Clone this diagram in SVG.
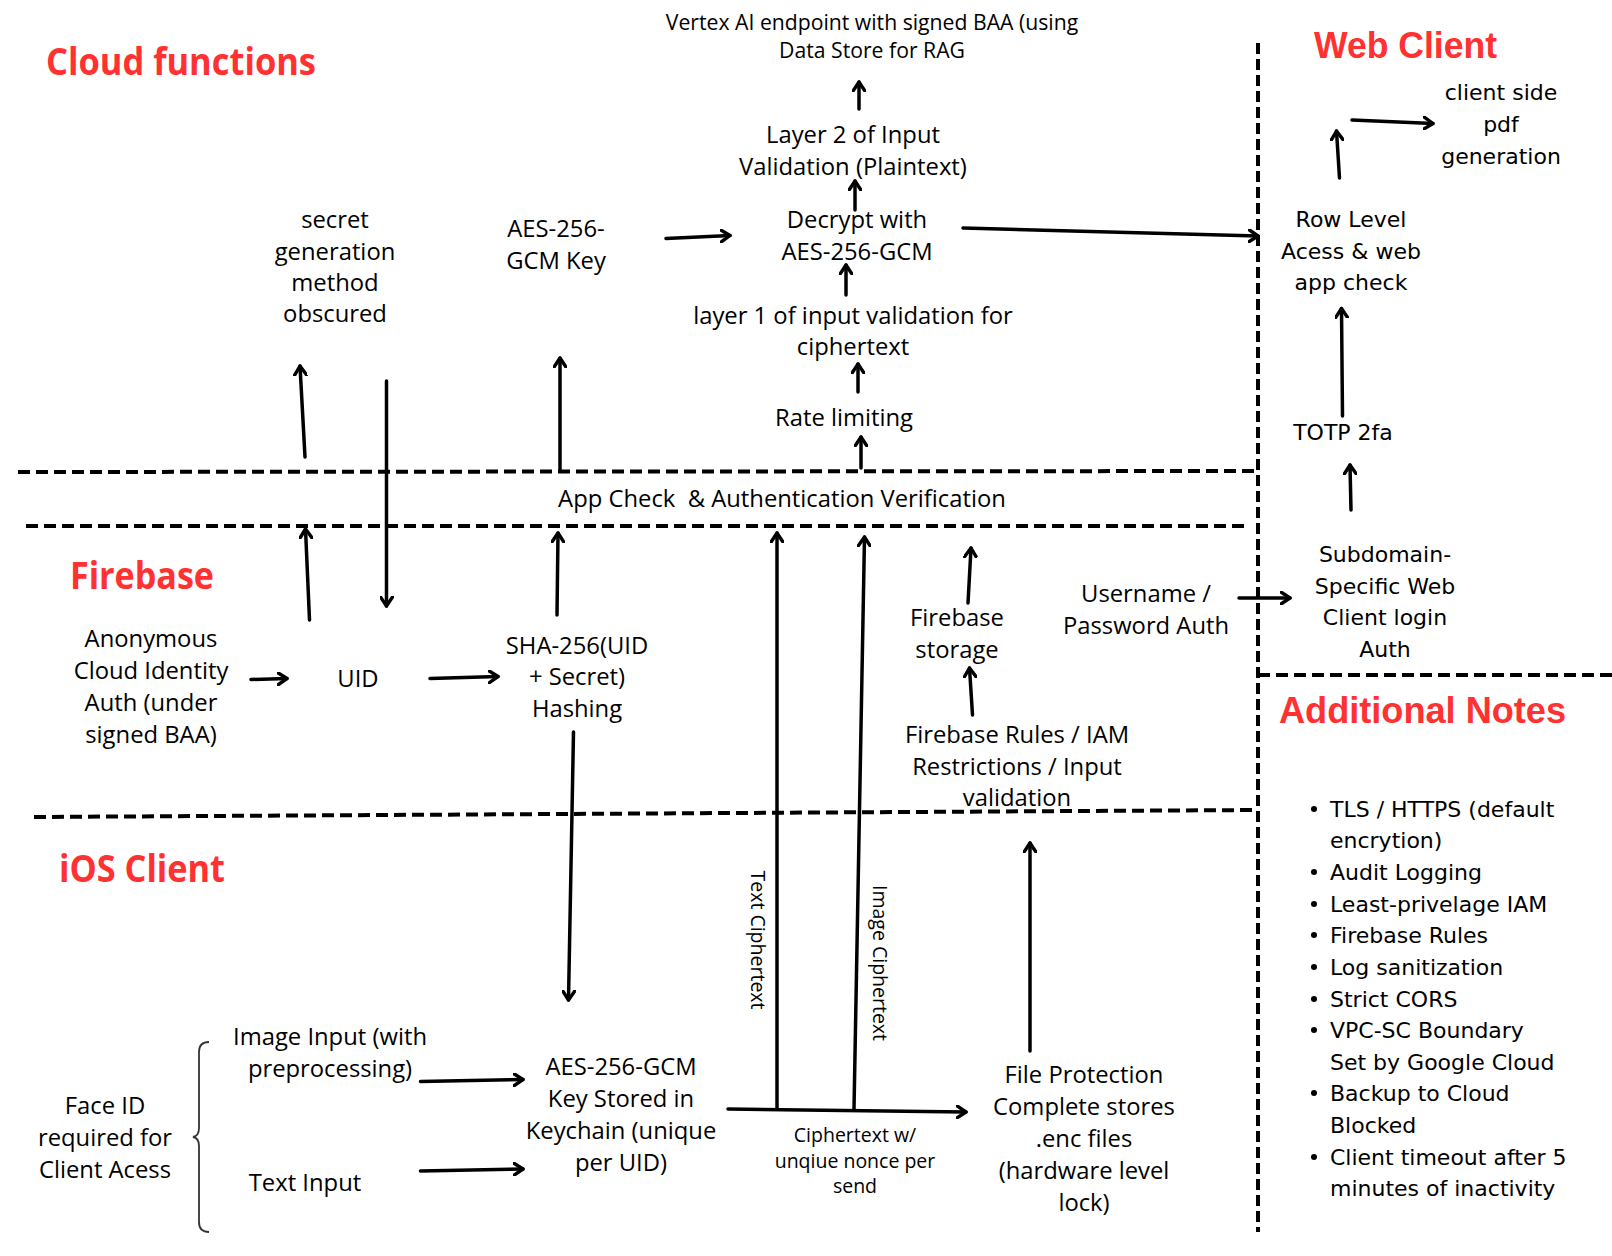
<svg xmlns="http://www.w3.org/2000/svg" width="1612" height="1256" viewBox="0 0 1612 1256">
<style>
.t{font-family:"Open Sans","Noto Sans",sans-serif;font-size:23.8px;fill:#000;text-anchor:middle}
.s{font-family:"Open Sans","Noto Sans",sans-serif;font-size:19.5px;fill:#000;text-anchor:middle}
.w{font-family:"DejaVu Sans",sans-serif;font-size:22px;fill:#000;text-anchor:middle}
.n{font-family:"DejaVu Sans",sans-serif;font-size:22px;fill:#000}
.h{font-family:"Open Sans","Noto Sans",sans-serif;font-weight:700;font-size:38px;fill:#ff3131}
.hw{font-family:"Liberation Sans",Arial,sans-serif;font-weight:700;font-size:36px;fill:#ff3131}
.c{stroke:#000;stroke-width:3.5;fill:none;stroke-linecap:round}
.d{stroke:#000;stroke-width:4;fill:none;stroke-dasharray:12 6}
</style>
<defs>
<marker id="arr" viewBox="0 0 12 14" refX="10" refY="7" markerWidth="12" markerHeight="14" markerUnits="userSpaceOnUse" orient="auto">
<path d="M1,1 L10,7 L1,13" fill="none" stroke="#000" stroke-width="3.4" stroke-linecap="round" stroke-linejoin="round"/>
</marker>
</defs>
<rect width="1612" height="1256" fill="#fff"/>

<g id="boundaries">
<line class="d" x1="18" y1="472" x2="1256" y2="471"/>
<line class="d" x1="26" y1="526" x2="1246" y2="526"/>
<line class="d" x1="34" y1="817" x2="1256" y2="810"/>
<line class="d" x1="1258" y1="43" x2="1258" y2="1232" style="stroke-dasharray:11 5"/>
<line class="d" x1="1258" y1="675" x2="1612" y2="675"/>
</g>

<g id="titles">
<text class="h" x="46" y="75" textLength="270" lengthAdjust="spacingAndGlyphs">Cloud functions</text>
<text class="h" x="70" y="589" textLength="144" lengthAdjust="spacingAndGlyphs">Firebase</text>
<text class="h" x="59" y="882" textLength="166" lengthAdjust="spacingAndGlyphs">iOS Client</text>
<text class="hw" x="1314" y="58" textLength="183" lengthAdjust="spacingAndGlyphs">Web Client</text>
<text class="hw" x="1279" y="723" textLength="287" lengthAdjust="spacingAndGlyphs">Additional Notes</text>
</g>

<g id="connectors">
<line class="c" x1="859" y1="109" x2="859" y2="82" marker-end="url(#arr)"/>
<line class="c" x1="855" y1="210" x2="855" y2="181" marker-end="url(#arr)"/>
<line class="c" x1="846" y1="295" x2="846" y2="265" marker-end="url(#arr)"/>
<line class="c" x1="858" y1="392" x2="858" y2="364" marker-end="url(#arr)"/>
<line class="c" x1="861" y1="468" x2="861" y2="437" marker-end="url(#arr)"/>
<line class="c" x1="666" y1="238.5" x2="730" y2="235.5" marker-end="url(#arr)"/>
<line class="c" x1="963" y1="228" x2="1258" y2="236" marker-end="url(#arr)"/>
<line class="c" x1="305" y1="457" x2="300" y2="366" marker-end="url(#arr)"/>
<line class="c" x1="386.5" y1="381" x2="386.5" y2="606" marker-end="url(#arr)"/>
<line class="c" x1="560" y1="471" x2="560" y2="358" marker-end="url(#arr)"/>
<line class="c" x1="251" y1="679.5" x2="287" y2="678.5" marker-end="url(#arr)"/>
<line class="c" x1="430" y1="678.5" x2="498" y2="676.5" marker-end="url(#arr)"/>
<line class="c" x1="309.5" y1="620" x2="305.5" y2="529" marker-end="url(#arr)"/>
<line class="c" x1="557" y1="615" x2="558" y2="533" marker-end="url(#arr)"/>
<line class="c" x1="573.5" y1="732" x2="568.5" y2="1000" marker-end="url(#arr)"/>
<line class="c" x1="777" y1="1109" x2="777" y2="533" marker-end="url(#arr)"/>
<line class="c" x1="854" y1="1109" x2="864.5" y2="537" marker-end="url(#arr)"/>
<line class="c" x1="968" y1="603" x2="971" y2="548" marker-end="url(#arr)"/>
<line class="c" x1="972.5" y1="715" x2="969.5" y2="668" marker-end="url(#arr)"/>
<line class="c" x1="1239" y1="598" x2="1290" y2="598" marker-end="url(#arr)"/>
<line class="c" x1="1339.5" y1="178" x2="1336.5" y2="131" marker-end="url(#arr)"/>
<line class="c" x1="1352" y1="120" x2="1433" y2="123.5" marker-end="url(#arr)"/>
<line class="c" x1="1342.5" y1="416" x2="1341.5" y2="308.5" marker-end="url(#arr)"/>
<line class="c" x1="1351" y1="510" x2="1350" y2="465" marker-end="url(#arr)"/>
<line class="c" x1="420.5" y1="1081.5" x2="523" y2="1079.5" marker-end="url(#arr)"/>
<line class="c" x1="420.5" y1="1171" x2="523" y2="1169" marker-end="url(#arr)"/>
<line class="c" x1="728" y1="1109" x2="966" y2="1112" marker-end="url(#arr)"/>
<line class="c" x1="1030" y1="1051" x2="1030" y2="843" marker-end="url(#arr)"/>
<path d="M209,1042 Q199,1042 199,1052 L199,1128 Q199,1136 193,1137 Q199,1138 199,1146 L199,1222 Q199,1232 209,1232" fill="none" stroke="#333" stroke-width="1.8"/>
</g>

<g id="vertex"><text class="s" x="872" y="30" style="font-size:21.2px">Vertex AI endpoint with signed BAA (using</text><text class="s" x="872" y="58" style="font-size:21.2px">Data Store for RAG</text></g>
<g id="layer2"><text class="t" x="853" y="143">Layer 2 of Input</text><text class="t" x="853" y="175">Validation (Plaintext)</text></g>
<g id="decrypt"><text class="t" x="857" y="228">Decrypt with</text><text class="t" x="857" y="260">AES-256-GCM</text></g>
<g id="layer1"><text class="t" x="853" y="324">layer 1 of input validation for</text><text class="t" x="853" y="355">ciphertext</text></g>
<g id="ratelimit"><text class="t" x="844" y="426">Rate limiting</text></g>
<g id="secret"><text class="t" x="335" y="228">secret</text><text class="t" x="335" y="260">generation</text><text class="t" x="335" y="291">method</text><text class="t" x="335" y="322">obscured</text></g>
<g id="aeskey"><text class="t" x="556" y="237">AES-256-</text><text class="t" x="556" y="269">GCM Key</text></g>
<g id="appcheck"><text class="t" x="782" y="507" xml:space="preserve">App Check  &amp; Authentication Verification</text></g>
<g id="anon"><text class="t" x="151" y="647">Anonymous</text><text class="t" x="151" y="679">Cloud Identity</text><text class="t" x="151" y="711">Auth (under</text><text class="t" x="151" y="743">signed BAA)</text></g>
<g id="uid"><text class="t" x="358" y="687">UID</text></g>
<g id="sha"><text class="t" x="577" y="654">SHA-256(UID</text><text class="t" x="577" y="685">+ Secret)</text><text class="t" x="577" y="717">Hashing</text></g>
<g id="fbstorage"><text class="t" x="957" y="626">Firebase</text><text class="t" x="957" y="658">storage</text></g>
<g id="fbrules"><text class="t" x="1017" y="743">Firebase Rules / IAM</text><text class="t" x="1017" y="775">Restrictions / Input</text><text class="t" x="1017" y="806">validation</text></g>
<g id="userpass"><text class="t" x="1146" y="602">Username /</text><text class="t" x="1146" y="634">Password Auth</text></g>
<g id="pdf"><text class="w" x="1501" y="100">client side</text><text class="w" x="1501" y="132">pdf</text><text class="w" x="1501" y="164">generation</text></g>
<g id="rowlevel"><text class="w" x="1351" y="227">Row Level</text><text class="w" x="1351" y="259">Acess &amp; web</text><text class="w" x="1351" y="290">app check</text></g>
<g id="totp"><text class="w" x="1343" y="440">TOTP 2fa</text></g>
<g id="subdomain"><text class="w" x="1385" y="562">Subdomain-</text><text class="w" x="1385" y="594">Specific Web</text><text class="w" x="1385" y="625">Client login</text><text class="w" x="1385" y="657">Auth</text></g>
<g id="notes">
<circle cx="1314" cy="809" r="3"/><text class="n" x="1330" y="817">TLS / HTTPS (default</text>
<text class="n" x="1330" y="848">encrytion)</text>
<circle cx="1314" cy="872" r="3"/><text class="n" x="1330" y="880">Audit Logging</text>
<circle cx="1314" cy="904" r="3"/><text class="n" x="1330" y="912">Least-privelage IAM</text>
<circle cx="1314" cy="935" r="3"/><text class="n" x="1330" y="943">Firebase Rules</text>
<circle cx="1314" cy="967" r="3"/><text class="n" x="1330" y="975">Log sanitization</text>
<circle cx="1314" cy="999" r="3"/><text class="n" x="1330" y="1007">Strict CORS</text>
<circle cx="1314" cy="1030" r="3"/><text class="n" x="1330" y="1038">VPC-SC Boundary</text>
<text class="n" x="1330" y="1070">Set by Google Cloud</text>
<circle cx="1314" cy="1093" r="3"/><text class="n" x="1330" y="1101">Backup to Cloud</text>
<text class="n" x="1330" y="1133">Blocked</text>
<circle cx="1314" cy="1157" r="3"/><text class="n" x="1330" y="1165">Client timeout after 5</text>
<text class="n" x="1330" y="1196">minutes of inactivity</text>
</g>
<g id="faceid"><text class="t" x="105" y="1114">Face ID</text><text class="t" x="105" y="1146">required for</text><text class="t" x="105" y="1178">Client Acess</text></g>
<g id="imageinput"><text class="t" x="330" y="1045">Image Input (with</text><text class="t" x="330" y="1077">preprocessing)</text></g>
<g id="textinput"><text class="t" x="305" y="1191">Text Input</text></g>
<g id="keychain"><text class="t" x="621" y="1075">AES-256-GCM</text><text class="t" x="621" y="1107">Key Stored in</text><text class="t" x="621" y="1139">Keychain (unique</text><text class="t" x="621" y="1171">per UID)</text></g>
<g id="nonce"><text class="s" x="855" y="1142">Ciphertext w/</text><text class="s" x="855" y="1168">unqiue nonce per</text><text class="s" x="855" y="1193">send</text></g>
<g id="textcipher"><text class="s" transform="translate(751,940) rotate(90)" x="0" y="0">Text Ciphertext</text></g>
<g id="imagecipher"><text class="s" transform="translate(873,963) rotate(90)" x="0" y="0">Image Ciphertext</text></g>
<g id="fileprot"><text class="t" x="1084" y="1083">File Protection</text><text class="t" x="1084" y="1115">Complete stores</text><text class="t" x="1084" y="1147">.enc files</text><text class="t" x="1084" y="1179">(hardware level</text><text class="t" x="1084" y="1211">lock)</text></g>
</svg>
